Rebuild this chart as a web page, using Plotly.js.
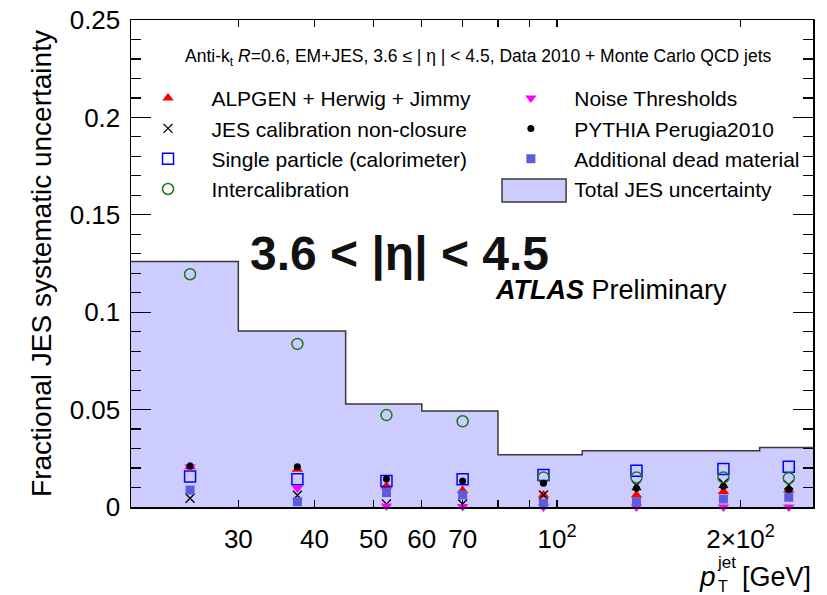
<!DOCTYPE html>
<html>
<head>
<meta charset="utf-8">
<script src="https://cdn.plot.ly/plotly-3.0.1.min.js"></script>
<style>html,body{margin:0;padding:0;background:#fff}#chart{width:827px;height:595px}</style>
</head>
<body>
<div id="chart"></div>
<script>
// ---- data ----
const binEdges   = [20, 30, 45, 60, 80, 110, 160, 215, 265];
const totalUnc   = [0.126, 0.0903, 0.0529, 0.0493, 0.0268, 0.0289, 0.0289, 0.0306];
const ptCenters  = [25, 37.5, 52.5, 70, 95, 135, 187.5, 240];
const alpgen     = [0.0207, 0.0194, 0.0108, 0.0085, 0.0062, 0.0062, 0.0079, 0.0087];
const nonClosure = [0.0045, 0.0060, 0.0015, 0.0015, 0.0062, 0.0110, 0.0122, 0.0113];
const singlePart = [0.0156, 0.0142, 0.0133, 0.0142, 0.0164, 0.0186, 0.0195, 0.0207];
const intercal   = [0.1195, 0.0837, 0.0472, 0.0440, 0.0152, 0.0152, 0.0152, 0.0148];
const noiseThr   = [0.0205, 0.0096, 0.0005, 0.0002, 0.0, 0.0, 0.0, 0.0];
const pythiaP    = [0.0210, 0.0207, 0.0144, 0.0133, 0.0122, 0.0096, 0.0106, 0.0087];
const deadMat    = [0.0087, 0.0027, 0.0074, 0.0062, 0.0019, 0.0027, 0.0041, 0.0050];
const xTickVals  = [30, 40, 50, 60, 70, 80, 90, 100, 200];
const xTickText  = ['30', '40', '50', '60', '70', ' ', ' ', '10<sup>2</sup>', '2×10<sup>2</sup>'];
const yTickVals  = [0, 0.05, 0.1, 0.15, 0.2, 0.25];
const yTickText  = ['0', '0.05', '0.1', '0.15', '0.2', '0.25'];

const FONT = 'Liberation Sans, Arial, Helvetica, sans-serif';
const pad = '\u00a0\u00a0\u00a0\u00a0';
const FILL = '#ccccff';

const histY = totalUnc.concat([totalUnc[totalUnc.length - 1]]);

function mk(name, y, symbol, size, color, lineW, legend, rank) {
  return {
    type: 'scatter', mode: 'markers', name: pad + name, x: ptCenters, y: y,
    cliponaxis: false, legend: legend, legendrank: rank, legendgroup: name,
    marker: {symbol: symbol, size: size, color: color, line: {color: color, width: lineW}},
    hoverinfo: 'skip'
  };
}

const traces = [
  {
    type: 'scatter', mode: 'lines', name: 'Total JES uncertainty', x: binEdges, y: histY,
    line: {shape: 'hv', color: '#3a3a3a', width: 1.5}, fill: 'tozeroy', fillcolor: FILL,
    showlegend: false, hoverinfo: 'skip'
  },
  // legend entry for the histogram (key box drawn as a layout shape)
  {
    type: 'scatter', mode: 'markers', name: pad + 'Total JES uncertainty', x: [null], y: [null],
    marker: {opacity: 0, size: 0, color: 'rgba(0,0,0,0)', line: {width: 0}},
    legend: 'legend2', legendrank: 4, legendgroup: 'tot', hoverinfo: 'skip'
  },
  mk('ALPGEN + Herwig + Jimmy', alpgen, 'triangle-up', 10, '#ff0000', 0, 'legend', 1),
  mk('JES calibration non-closure', nonClosure, 'x-thin-open', 9, '#000000', 1.3, 'legend', 2),
  mk('Single particle (calorimeter)', singlePart, 'square-open', 11, '#0000ff', 1.5, 'legend', 3),
  mk('Intercalibration', intercal, 'circle-open', 11, '#1a7a1a', 1.5, 'legend', 4),
  mk('Noise Thresholds', noiseThr, 'triangle-down', 10, '#ff00ff', 0, 'legend2', 1),
  mk('PYTHIA Perugia2010', pythiaP, 'circle', 7, '#000000', 0, 'legend2', 2),
  mk('Additional dead material', deadMat, 'square', 9, '#5c5cdc', 0, 'legend2', 3)
];

const legendCommon = {
  bgcolor: 'rgba(0,0,0,0)', borderwidth: 0, font: {family: FONT, size: 21, color: '#000'},
  xanchor: 'left', yanchor: 'top', tracegroupgap: 0, itemclick: false, itemdoubleclick: false
};

const layout = {
  width: 827, height: 595,
  margin: {l: 131, r: 14, t: 20, b: 88},
  paper_bgcolor: '#ffffff', plot_bgcolor: '#ffffff',
  font: {family: FONT, color: '#000'},
  showlegend: true,
  legend: Object.assign({}, legendCommon, {x: 0.025, y: 0.881}),
  legend2: Object.assign({}, legendCommon, {x: 0.557, y: 0.881}),
  xaxis: {
    type: 'log', range: [Math.log10(20), Math.log10(263)],
    tickmode: 'array', tickvals: xTickVals, ticktext: xTickText,
    ticks: 'inside', ticklen: 7, tickwidth: 1.2, tickcolor: '#000',
    showline: true, linecolor: '#000', linewidth: 1.5, mirror: 'allticks',
    showgrid: false, zeroline: false, ticklabelstandoff: 8,
    tickfont: {family: FONT, size: 26, color: '#000'}
  },
  xaxis2: {
    type: 'log', range: [Math.log10(20), Math.log10(263)], overlaying: 'x', anchor: 'y',
    tickmode: 'array', tickvals: [100], ticks: 'inside', ticklen: 14, tickwidth: 1.2,
    tickcolor: '#000', showticklabels: false, showline: false, mirror: 'allticks',
    showgrid: false, zeroline: false
  },
  yaxis: {
    range: [0, 0.25], tickmode: 'array', tickvals: yTickVals, ticktext: yTickText,
    ticks: 'inside', ticklen: 20, tickwidth: 1.2, tickcolor: '#000',
    minor: {dtick: 0.01, tick0: 0, ticks: 'inside', ticklen: 10, tickwidth: 1.2, tickcolor: '#000', showgrid: false},
    showline: true, linecolor: '#000', linewidth: 1.5, mirror: 'allticks',
    showgrid: false, zeroline: false, ticklabelstandoff: 4,
    tickfont: {family: FONT, size: 26, color: '#000'},
    title: {text: 'Fractional JES systematic uncertainty', font: {family: FONT, size: 28, color: '#000'}, standoff: 10}
  },
  shapes: [
    {type: 'rect', xref: 'paper', yref: 'paper', x0: 0.544, x1: 0.638, y0: 0.6263, y1: 0.6735,
     fillcolor: FILL, line: {color: '#3a3a3a', width: 1.5}, layer: 'above'}
  ],
  annotations: [
    {xref: 'paper', yref: 'paper', x: 0.509, y: 0.924, xanchor: 'center', yanchor: 'middle', showarrow: false,
     text: 'Anti-k<sub>t</sub> <i>R</i>=0.6, EM+JES, 3.6 ≤ | η | &lt; 4.5, Data 2010 + Monte Carlo QCD jets',
     font: {family: FONT, size: 17.5, color: '#000'}},
    {xref: 'paper', yref: 'paper', x: 0.393, y: 0.5195, xanchor: 'center', yanchor: 'middle', showarrow: false,
     text: '<b>3.6 &lt; |η| &lt; 4.5</b>', font: {family: FONT, size: 48, color: '#111'}},
    {xref: 'paper', yref: 'paper', x: 0.531, y: 0.4456, xanchor: 'left', yanchor: 'middle', showarrow: false,
     text: '<b><i>ATLAS</i></b> Preliminary', font: {family: FONT, size: 27, color: '#000'}},
    {xref: 'paper', yref: 'paper', x: 0.845, y: -0.143, xanchor: 'center', yanchor: 'middle', showarrow: false,
     text: '<i>p</i>', font: {family: FONT, size: 28, color: '#000'}},
    {xref: 'paper', yref: 'paper', x: 0.873, y: -0.113, xanchor: 'center', yanchor: 'middle', showarrow: false,
     text: 'jet', font: {family: FONT, size: 17, color: '#000'}},
    {xref: 'paper', yref: 'paper', x: 0.868, y: -0.163, xanchor: 'center', yanchor: 'middle', showarrow: false,
     text: 'T', font: {family: FONT, size: 16, color: '#000'}},
    {xref: 'paper', yref: 'paper', x: 1.0, y: -0.143, xanchor: 'right', yanchor: 'middle', showarrow: false,
     text: '[GeV]', font: {family: FONT, size: 27, color: '#000'}}
  ]
};

Plotly.newPlot('chart', traces, layout, {staticPlot: true, displayModeBar: false});
</script>
</body>
</html>
